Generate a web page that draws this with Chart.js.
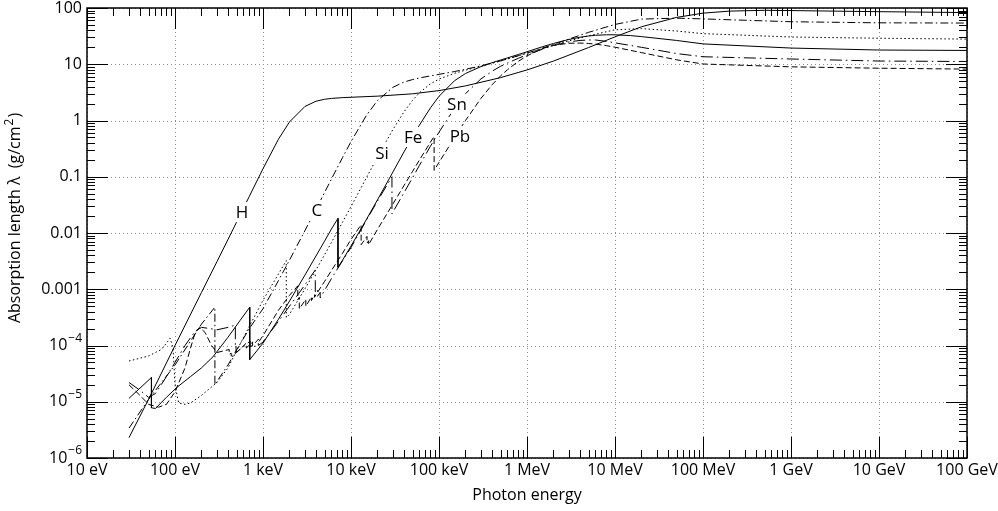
<!DOCTYPE html>
<html>
<head>
<meta charset="utf-8">
<script src="https://cdn.jsdelivr.net/npm/chart.js@4.4.0/dist/chart.umd.min.js"></script>
<style>
  html, body { margin: 0; padding: 0; background: #fff; }
  #wrap { width: 998px; height: 511px; }
</style>
</head>
<body>
<div id="wrap"><canvas id="chart" width="998" height="511"></canvas></div>
<script>
// photon energy in eV, absorption length in g/cm2
var hE = [30, 50, 100, 200, 300, 500, 700, 1e3, 1.5e3, 2e3, 3e3, 4e3, 5e3, 6e3, 8e3, 1e4, 2e4, 5e4, 1e5, 2e5, 5e5, 1e6, 2e6, 5e6, 1e7, 2e7, 5e7, 1e8, 2e8, 5e8, 1e9, 1e10, 1e11];
var hL = [2.3e-6, 1.1e-5, 1.0e-4, 8.8e-4, 3.1e-3, 0.0155, 0.045, 0.139, 0.466, 0.944, 1.78, 2.2, 2.385, 2.47, 2.55, 2.59, 2.71, 2.98, 3.40, 4.12, 5.78, 7.92, 11.4, 19.8, 30.7, 46.4, 68, 81, 88, 91, 90, 86, 83];

var cE = [30, 50, 100, 150, 200, 284, 284, 300, 400, 500, 700, 1e3, 1.5e3, 2e3, 3e3, 4e3, 5e3, 6e3, 8e3, 1e4, 1.5e4, 2e4, 3e4, 4e4, 5e4, 6e4, 8e4, 1e5, 1.5e5, 2e5, 3e5, 5e5, 1e6, 2e6, 3e6, 5e6, 1e7, 2e7, 5e7, 1e8, 1e9, 1e10, 1e11];
var cL = [3.4e-6, 1.1e-5, 4.5e-5, 1.2e-4, 2.4e-4, 4.8e-4, 2.0e-5, 2.3e-5, 4.5e-5, 8.3e-5, 2.0e-4, 4.52e-4, 1.43e-3, 3.30e-3, 0.01107, 0.0265, 0.0523, 0.0913, 0.2185, 0.421, 1.239, 2.262, 3.90, 4.82, 5.34, 5.70, 6.21, 6.61, 7.42, 8.14, 9.38, 11.47, 15.72, 22.5, 28.1, 36.9, 51.0, 63.5, 66, 64, 57, 54.5, 54];

var siE = [30, 50, 70, 80, 88, 95, 100, 110, 130, 150, 200, 300, 400, 500, 700, 1e3, 1.5e3, 1839, 1839, 2e3, 3e3, 4e3, 5e3, 6e3, 8e3, 1e4, 1.5e4, 2e4, 3e4, 4e4, 5e4, 6e4, 8e4, 1e5, 1.5e5, 2e5, 3e5, 5e5, 1e6, 2e6, 3e6, 5e6, 1e7, 2e7, 5e7, 1e8, 1e9, 1e10, 1e11];
var siL = [5.3e-5, 6.5e-5, 8.5e-5, 1.1e-4, 1.35e-4, 9e-5, 2.0e-5, 9.5e-6, 9e-6, 9.5e-6, 1.3e-5, 2.2e-5, 4.0e-5, 8e-5, 2.2e-4, 6.37e-4, 1.87e-3, 3.23e-3, 3.13e-4, 3.6e-4, 1.02e-3, 2.21e-3, 4.08e-3, 6.8e-3, 0.01546, 0.0295, 0.0967, 0.224, 0.696, 1.426, 2.28, 3.12, 4.49, 5.45, 6.91, 7.84, 9.24, 11.43, 15.72, 21.8, 26, 32, 41, 43, 39, 35, 30.5, 29, 28];

var feE = [30, 54, 54, 60, 80, 105, 150, 200, 270, 400, 550, 707, 707, 1e3, 1.5e3, 2e3, 3e3, 4e3, 5e3, 6e3, 7112, 7112, 8e3, 1e4, 1.5e4, 2e4, 3e4, 4e4, 5e4, 6e4, 8e4, 1e5, 1.5e5, 2e5, 3e5, 4e5, 5e5, 6e5, 8e5, 1e6, 1.5e6, 2e6, 3e6, 4e6, 5e6, 6e6, 8e6, 1e7, 1.5e7, 2e7, 5e7, 1e8, 1e9, 1e10, 1e11];
var feL = [1.15e-5, 2.7e-5, 7.8e-6, 7.6e-6, 1.2e-5, 1.8e-5, 2.8e-5, 4.0e-5, 6.3e-5, 1.4e-4, 2.8e-4, 4.8e-4, 5.6e-5, 1.1e-4, 2.94e-4, 6.15e-4, 1.79e-3, 3.9e-3, 7.15e-3, 0.01179, 0.0182, 2.45e-3, 3.27e-3, 5.86e-3, 0.0175, 0.0389, 0.122, 0.276, 0.511, 0.83, 1.68, 2.69, 5.09, 6.85, 9.10, 10.64, 11.88, 12.98, 14.93, 16.68, 20.5, 23.4, 27.6, 30.2, 31.8, 32.7, 33.4, 33.4, 32.3, 31.0, 26.5, 23, 19.4, 17.9, 17.6];

var snE = [30, 40, 50, 60, 80, 100, 130, 170, 200, 250, 300, 400, 485, 485, 494, 494, 600, 714, 714, 756, 756, 884, 884, 1e3, 1.5e3, 2e3, 3e3, 3929, 3929, 4156, 4156, 4465, 4465, 5e3, 6e3, 8e3, 1e4, 1.5e4, 2e4, 29200, 29200, 4e4, 5e4, 6e4, 8e4, 1e5, 1.5e5, 2e5, 3e5, 4e5, 5e5, 6e5, 8e5, 1e6, 1.5e6, 2e6, 3e6, 4e6, 5e6, 6e6, 8e6, 1e7, 2e7, 5e7, 1e8, 1e9, 1e10, 1e11];
var snL = [2.2e-5, 1.6e-5, 1.2e-5, 1.4e-5, 2.8e-5, 5e-5, 1.0e-4, 1.8e-4, 2.1e-4, 2.0e-4, 1.9e-4, 2.1e-4, 2.3e-4, 1.0e-4, 1.05e-4, 7.5e-5, 9.5e-5, 1.2e-4, 9.5e-5, 1.0e-4, 9e-5, 1.1e-4, 1.0e-4, 1.15e-4, 2.7e-4, 5.0e-4, 1.2e-3, 2.2e-3, 9e-4, 1.0e-3, 7.5e-4, 8.8e-4, 7.0e-4, 9.5e-4, 1.55e-3, 3.2e-3, 5.5e-3, 0.017, 0.037, 0.1, 0.022, 0.052, 0.096, 0.16, 0.35, 0.62, 1.65, 3.0, 5.5, 7.5, 9.2, 10.5, 12.8, 14.7, 18.5, 21.5, 25, 26.5, 27, 27, 25.5, 24, 20, 15.5, 13.6, 12.4, 11.4, 11.2];

var pbE = [30, 40, 50, 65, 80, 100, 130, 150, 170, 190, 220, 260, 300, 413, 413, 435, 435, 500, 645, 645, 761, 761, 891, 891, 1e3, 1.5e3, 2e3, 2484, 2484, 2586, 2586, 3e3, 3066, 3066, 3554, 3554, 3851, 3851, 4e3, 5e3, 6e3, 8e3, 1e4, 13035, 13035, 15200, 15200, 15860, 15860, 2e4, 3e4, 4e4, 5e4, 6e4, 8e4, 88000, 88000, 1e5, 1.5e5, 2e5, 3e5, 4e5, 5e5, 6e5, 8e5, 1e6, 1.5e6, 2e6, 3e6, 4e6, 5e6, 6e6, 8e6, 1e7, 2e7, 5e7, 1e8, 1e9, 1e10, 1e11];
var pbL = [2.0e-5, 1.3e-5, 9e-6, 8e-6, 9e-6, 1.5e-5, 4e-5, 9e-5, 1.7e-4, 2.1e-4, 1.7e-4, 1.0e-4, 7.5e-5, 8.5e-5, 7e-5, 7.3e-5, 6.5e-5, 7.5e-5, 1.1e-4, 9e-5, 1.15e-4, 1.0e-4, 1.3e-4, 1.15e-4, 1.5e-4, 4.24e-4, 7.78e-4, 1.15e-3, 6.5e-4, 7.2e-4, 4.5e-4, 6.3e-4, 6.6e-4, 5.0e-4, 7.3e-4, 6.3e-4, 8.0e-4, 7.2e-4, 8.0e-4, 1.37e-3, 2.16e-3, 4.35e-3, 7.66e-3, 0.014, 6.2e-3, 8.7e-3, 6.6e-3, 7.3e-3, 6.2e-3, 0.0116, 0.033, 0.0696, 0.124, 0.199, 0.413, 0.52, 0.13, 0.18, 0.497, 1.0, 2.48, 4.3, 6.2, 8.0, 11.3, 14.1, 19.1, 21.7, 23.6, 23.8, 23.4, 22.8, 21.4, 20.1, 16.1, 12, 10.1, 9.0, 8.5, 8.2];

var xTickValues = [1e1, 1e2, 1e3, 1e4, 1e5, 1e6, 1e7, 1e8, 1e9, 1e10, 1e11];
var xTickLabels = ['10 eV', '100 eV', '1 keV', '10 keV', '100 keV', '1 MeV', '10 MeV', '100 MeV', '1 GeV', '10 GeV', '100 GeV'];
var yTickValues = [1e-6, 1e-5, 1e-4, 1e-3, 1e-2, 1e-1, 1, 10, 100];
var yTickLabels = [['10', '\u22126'], ['10', '\u22125'], ['10', '\u22124'], ['0.001'], ['0.01'], ['0.1'], ['1'], ['10'], ['100']];

// curve labels, placed on the curves (energy, length)
var labelText = ['H', 'C', 'Si', 'Fe', 'Sn', 'Pb'];
var labelE = [577, 4100, 22500, 50700, 160000, 173000];
var labelL = [0.0236, 0.0257, 0.266, 0.51, 1.97, 0.53];

var FONT = '"Open Sans", "DejaVu Sans", sans-serif';

function pts(e, l) {
    var out = [];
    for (var i = 0; i < e.length; i++) out.push({x: e[i], y: l[i]});
    return out;
}

function curve(name, e, l, dash) {
    return {
        label: name,
        data: pts(e, l),
        showLine: true,
        borderColor: '#000',
        borderWidth: 1,
        borderDash: dash,
        pointRadius: 0,
        tension: 0,
        fill: false
    };
}

var axesPlugin = {
    id: 'axesPlugin',
    beforeDatasetsDraw: function (chart) {
        var ctx = chart.ctx, a = chart.chartArea;
        var xs = chart.scales.x, ys = chart.scales.y;
        ctx.save();
        ctx.strokeStyle = '#8a8a8a';
        ctx.lineWidth = 1;
        ctx.setLineDash([1, 3]);
        xTickValues.forEach(function (v) {
            var px = Math.round(xs.getPixelForValue(v)) + 0.5;
            ctx.beginPath(); ctx.moveTo(px, a.top); ctx.lineTo(px, a.bottom); ctx.stroke();
        });
        yTickValues.forEach(function (v) {
            var py = Math.round(ys.getPixelForValue(v)) + 0.5;
            ctx.beginPath(); ctx.moveTo(a.left, py); ctx.lineTo(a.right, py); ctx.stroke();
        });
        ctx.restore();
    },
    afterDatasetsDraw: function (chart) {
        var ctx = chart.ctx;
        var xs = chart.scales.x, ys = chart.scales.y;
        ctx.save();
        ctx.font = '17px ' + FONT;
        ctx.textAlign = 'center';
        ctx.textBaseline = 'middle';
        for (var i = 0; i < labelText.length; i++) {
            var px = xs.getPixelForValue(labelE[i]);
            var py = ys.getPixelForValue(labelL[i]);
            var w = ctx.measureText(labelText[i]).width;
            ctx.fillStyle = '#fff';
            ctx.fillRect(px - w / 2 - 3, py - 10, w + 6, 20);
            ctx.fillStyle = '#000';
            ctx.fillText(labelText[i], px, py + 1);
        }
        ctx.restore();
    },
    afterDraw: function (chart) {
        var ctx = chart.ctx, a = chart.chartArea;
        var xs = chart.scales.x, ys = chart.scales.y;
        var major = 21, minor = 8;
        ctx.save();
        ctx.strokeStyle = '#000';
        ctx.lineWidth = 1;
        ctx.setLineDash([]);
        // x ticks, top and bottom, inward
        for (var n = 1; n <= 11; n++) {
            for (var m = 1; m <= 9; m++) {
                var v = m * Math.pow(10, n);
                if (v > 1e11 * 1.001) break;
                var px = Math.round(xs.getPixelForValue(v)) + 0.5;
                var len = m === 1 ? major : minor;
                ctx.beginPath();
                ctx.moveTo(px, a.bottom); ctx.lineTo(px, a.bottom - len);
                ctx.moveTo(px, a.top); ctx.lineTo(px, a.top + len);
                ctx.stroke();
            }
        }
        // y ticks, left and right, inward
        for (var k = -6; k <= 2; k++) {
            for (var j = 1; j <= 9; j++) {
                var w = j * Math.pow(10, k);
                if (w > 100 * 1.001) break;
                var py = Math.round(ys.getPixelForValue(w)) + 0.5;
                var l2 = j === 1 ? major : minor;
                ctx.beginPath();
                ctx.moveTo(a.left, py); ctx.lineTo(a.left + l2, py);
                ctx.moveTo(a.right, py); ctx.lineTo(a.right - l2, py);
                ctx.stroke();
            }
        }
        // frame
        ctx.lineWidth = 1.5;
        ctx.strokeRect(a.left, a.top, a.right - a.left, a.bottom - a.top);

        // tick labels
        ctx.fillStyle = '#000';
        ctx.font = '16px ' + FONT;
        ctx.textAlign = 'center';
        ctx.textBaseline = 'alphabetic';
        xTickValues.forEach(function (v, i) {
            ctx.fillText(xTickLabels[i], xs.getPixelForValue(v), a.bottom + 17);
        });
        ctx.textBaseline = 'middle';
        yTickValues.forEach(function (v, i) {
            var py = ys.getPixelForValue(v);
            var lab = yTickLabels[i];
            var right = a.left - 5;
            if (lab.length === 1) {
                ctx.font = '16px ' + FONT;
                ctx.textAlign = 'right';
                ctx.fillText(lab[0], right, py);
            } else {
                ctx.font = '12px ' + FONT;
                ctx.textAlign = 'right';
                ctx.fillText(lab[1], right, py - 7);
                var sw = ctx.measureText(lab[1]).width;
                ctx.font = '16px ' + FONT;
                ctx.fillText(lab[0], right - sw - 1, py);
            }
        });

        // axis titles
        ctx.font = '16px ' + FONT;
        ctx.textAlign = 'center';
        ctx.textBaseline = 'alphabetic';
        ctx.fillText('Photon energy', (a.left + a.right) / 2, 500);

        ctx.save();
        ctx.translate(20, 218);
        ctx.rotate(-Math.PI / 2);
        var t1 = 'Absorption length \u03bb  (g/cm';
        var t2 = '2';
        var t3 = ')';
        ctx.font = '16px ' + FONT;
        var w1 = ctx.measureText(t1).width, w3 = ctx.measureText(t3).width;
        ctx.font = '12px ' + FONT;
        var w2 = ctx.measureText(t2).width;
        var x0 = -(w1 + w2 + w3 + 2) / 2;
        ctx.textAlign = 'left';
        ctx.font = '16px ' + FONT;
        ctx.fillText(t1, x0, 0);
        ctx.font = '12px ' + FONT;
        ctx.fillText(t2, x0 + w1 + 1, -7);
        ctx.font = '16px ' + FONT;
        ctx.fillText(t3, x0 + w1 + w2 + 2, 0);
        ctx.restore();

        ctx.restore();
    }
};

var ctx = document.getElementById('chart').getContext('2d');
var chart = new Chart(ctx, {
    type: 'scatter',
    data: {
        datasets: [
            curve('H', hE, hL, []),
            curve('C', cE, cL, [8, 3, 1.5, 3]),
            curve('Si', siE, siL, [1.5, 2.5]),
            curve('Fe', feE, feL, []),
            curve('Sn', snE, snL, [12, 4, 1.5, 4]),
            curve('Pb', pbE, pbL, [6, 3])
        ]
    },
    options: {
        responsive: false,
        animation: false,
        devicePixelRatio: 1,
        layout: { padding: { left: 87, right: 31, top: 8, bottom: 53 } },
        plugins: { legend: { display: false }, tooltip: { enabled: false } },
        scales: {
            x: { type: 'logarithmic', min: 10, max: 1e11, display: false },
            y: { type: 'logarithmic', min: 1e-6, max: 100, display: false }
        }
    },
    plugins: [axesPlugin]
});
</script>
</body>
</html>
